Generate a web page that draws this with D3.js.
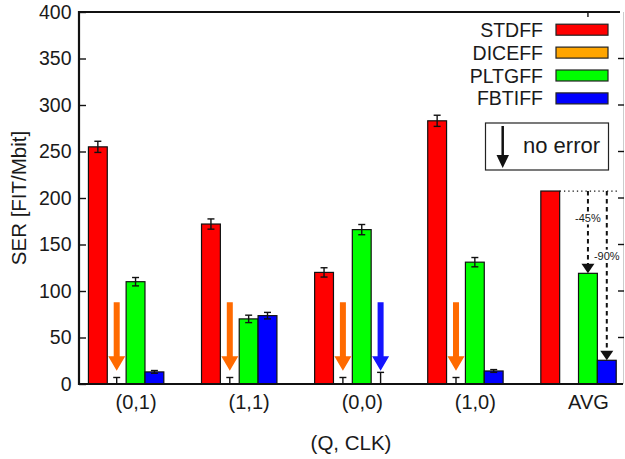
<!DOCTYPE html>
<html>
<head>
<meta charset="utf-8">
<script src="https://cdn.jsdelivr.net/npm/d3@7/dist/d3.min.js"></script>
<style>
  html, body { margin: 0; padding: 0; background: #fff; }
  svg { display: block; }
  text { font-family: "Liberation Sans", Arial, sans-serif; fill: #1a1a1a; }
</style>
</head>
<body>
<svg id="chart" width="625" height="459"></svg>
<script>
// ---- data ----
const categories = ["(0,1)", "(1,1)", "(0,0)", "(1,0)", "AVG"];
const seriesNames = ["STDFF", "DICEFF", "PLTGFF", "FBTIFF"];
const seriesColors = ["#ff0000", "#ffa500", "#00ff00", "#0000ff"];
const stdff    = [255, 172, 120, 283, 207.5];
const stdffErr = [6, 5.5, 5, 6, null];
const diceff    = [0, 0, 0, 0, 0];
const diceffErr = [7, 7, 7, 7, null];
const pltgff    = [110, 70, 166, 131, 119];
const pltgffErr = [4.5, 4, 5.5, 5, null];
const fbtiff    = [13, 73.5, 0, 14, 25.5];
const fbtiffErr = [1.5, 3.5, 12.5, 1.5, null];
// "no error observed" markers (arrow) per series / category
const diceffNoErr = [true, true, true, true, false];
const fbtiffNoErr = [false, false, true, false, false];
const yTicks = [0, 50, 100, 150, 200, 250, 300, 350, 400];
const reductionLabels = ["-45%", "-90%"];

const values = [stdff, diceff, pltgff, fbtiff];
const errors = [stdffErr, diceffErr, pltgffErr, fbtiffErr];
const noErr  = [null, diceffNoErr, null, fbtiffNoErr];

// ---- layout ----
const svg = d3.select("#chart");
const mLeft = 79, mRight = 623, mTop = 12, mBottom = 384;
const x = d3.scaleLinear().domain([-0.5, 4.31]).range([mLeft, mRight]);
const y = d3.scaleLinear().domain([0, 400]).range([mBottom, mTop]);
const nGap = 6;               // 4 bars + gap of 2
const bw = x(1 / nGap) - x(0);
const barCenter = (i, j) => x(i + (j - 2) / nGap);

const g = svg.append("g");

// bars
values.forEach((vals, j) => {
  g.selectAll(null).data(vals.map((v, i) => ({ v, i })).filter(d => d.v > 0))
    .enter().append("rect")
    .attr("x", d => barCenter(d.i, j) - bw / 2)
    .attr("y", d => y(d.v))
    .attr("width", bw)
    .attr("height", d => y(0) - y(d.v))
    .attr("fill", seriesColors[j])
    .attr("stroke", "#111")
    .attr("stroke-width", 1.2);
});

// error bars
values.forEach((vals, j) => {
  vals.forEach((v, i) => {
    const e = errors[j][i];
    if (e == null) return;
    const cx = barCenter(i, j);
    const lo = Math.max(0, v - e), hi = v + e;
    const eg = g.append("g").attr("stroke", "#111").attr("stroke-width", 1.4);
    eg.append("line").attr("x1", cx).attr("x2", cx).attr("y1", y(lo)).attr("y2", y(hi));
    eg.append("line").attr("x1", cx - 3.5).attr("x2", cx + 3.5).attr("y1", y(hi)).attr("y2", y(hi));
    if (v - e > 0)
      eg.append("line").attr("x1", cx - 3.5).attr("x2", cx + 3.5).attr("y1", y(lo)).attr("y2", y(lo));
  });
});

// no-error arrows
const arrowColors = [null, "#ff6a00", null, "#1414ff"];
function fatArrow(cx, y0, y1, color) {
  const headH = 14.5;
  const p = d3.path();
  p.moveTo(cx - 3, y0); p.lineTo(cx + 3, y0); p.lineTo(cx + 3, y1 - headH);
  p.lineTo(cx + 8.5, y1 - headH); p.lineTo(cx, y1); p.lineTo(cx - 8.5, y1 - headH);
  p.lineTo(cx - 3, y1 - headH); p.closePath();
  g.append("path").attr("d", p.toString()).attr("fill", color);
}
noErr.forEach((flags, j) => {
  if (!flags) return;
  flags.forEach((f, i) => {
    if (f) fatArrow(barCenter(i, j), y(88), y(14.3), arrowColors[j]);
  });
});

// reduction annotation on AVG
const avgI = 4;
const refY = y(stdff[avgI]);
g.append("line")
  .attr("x1", barCenter(avgI, 0) + bw / 2).attr("x2", x(4.28))
  .attr("y1", refY).attr("y2", refY)
  .attr("stroke", "#111").attr("stroke-width", 1.3).attr("stroke-dasharray", "1.3,3");
[[2, pltgff[avgI], reductionLabels[0], 178], [3, fbtiff[avgI], reductionLabels[1], 138]].forEach(([j, v, lbl, ly]) => {
  const cx = barCenter(avgI, j);
  g.append("line").attr("x1", cx).attr("x2", cx).attr("y1", refY).attr("y2", y(v) - 9)
    .attr("stroke", "#111").attr("stroke-width", 2).attr("stroke-dasharray", "4.5,3.5");
  g.append("path")
    .attr("d", `M${cx - 6.5},${y(v) - 9.5}L${cx + 6.5},${y(v) - 9.5}L${cx},${y(v)}Z`)
    .attr("fill", "#111");
  const t = g.append("text").attr("x", cx).attr("y", y(ly)).attr("text-anchor", "middle")
    .attr("dominant-baseline", "central").attr("font-size", 11).text(lbl);
  const bb = t.node().getBBox();
  g.insert("rect", () => t.node())
    .attr("x", bb.x - 1).attr("y", bb.y).attr("width", bb.width + 2).attr("height", bb.height)
    .attr("fill", "#fff");
});

// axes / frame
const ax = svg.append("g").attr("stroke", "#111");
ax.append("line").attr("x1", mLeft).attr("x2", mLeft).attr("y1", mTop - 1).attr("y2", mBottom + 1).attr("stroke-width", 2.2);
ax.append("line").attr("x1", mLeft - 1).attr("x2", mRight).attr("y1", mBottom).attr("y2", mBottom).attr("stroke-width", 2.2);
ax.append("line").attr("x1", mLeft).attr("x2", mRight - 3).attr("y1", mTop).attr("y2", mTop).attr("stroke-width", 1.8);
ax.append("line").attr("x1", mRight + 0.5).attr("x2", mRight + 0.5).attr("y1", mTop).attr("y2", mBottom)
  .attr("stroke", "#ccc").attr("stroke-width", 1);

const yAxis = d3.axisLeft(y).tickValues(yTicks).tickSize(-7).tickPadding(7.5);
const yg = svg.append("g").attr("transform", `translate(${mLeft},0)`).call(yAxis);
yg.select(".domain").remove();
yg.selectAll(".tick line").attr("stroke", "#111").attr("stroke-width", 1.4);
yg.selectAll(".tick text").attr("font-size", 19.5).attr("font-family", "Liberation Sans, Arial, sans-serif").attr("fill", "#1a1a1a");

// right mirror ticks
svg.append("g").selectAll("line").data(yTicks.filter(t => t > 0 && t < 400)).enter().append("line")
  .attr("x1", mRight - 5).attr("x2", mRight + 1).attr("y1", d => y(d)).attr("y2", d => y(d))
  .attr("stroke", "#111").attr("stroke-width", 1.4);
// top mirror tick (AVG)
svg.append("line").attr("x1", x(4)).attr("x2", x(4)).attr("y1", mTop).attr("y2", mTop + 5)
  .attr("stroke", "#111").attr("stroke-width", 1.4);

// x labels
const xAxis = d3.axisBottom(x).tickValues(d3.range(categories.length)).tickFormat(i => categories[i]).tickSize(0).tickPadding(11);
const xg = svg.append("g").attr("transform", `translate(0,${mBottom})`).call(xAxis);
xg.select(".domain").remove();
xg.selectAll(".tick text").attr("font-size", 20).attr("font-family", "Liberation Sans, Arial, sans-serif").attr("fill", "#1a1a1a");

// axis titles
svg.append("text").attr("transform", "translate(26,198) rotate(-90)").attr("text-anchor", "middle")
  .attr("font-size", 20.5).text("SER [FIT/Mbit]");
svg.append("text").attr("x", 351).attr("y", 449.5).attr("text-anchor", "middle")
  .attr("font-size", 20.5).text("(Q, CLK)");

// legend
const leg = svg.append("g");
seriesNames.forEach((name, k) => {
  const cy = 29.7 + k * 22.9;
  leg.append("text").attr("x", 543).attr("y", cy).attr("text-anchor", "end")
    .attr("dominant-baseline", "central").attr("font-size", 19.5).text(name);
  leg.append("rect").attr("x", 556).attr("y", cy - 5.5).attr("width", 52).attr("height", 11)
    .attr("fill", seriesColors[k]).attr("stroke", "#222").attr("stroke-width", 1.2);
});
leg.append("rect").attr("x", 485.5).attr("y", 123).attr("width", 123).attr("height", 47)
  .attr("fill", "#fff").attr("stroke", "#222").attr("stroke-width", 1.2);
leg.append("line").attr("x1", 502.7).attr("x2", 502.7).attr("y1", 126).attr("y2", 158)
  .attr("stroke", "#111").attr("stroke-width", 2.5);
leg.append("path").attr("d", "M496.5,155L509,155L502.7,168Z").attr("fill", "#111");
leg.append("text").attr("x", 523).attr("y", 145.5).attr("dominant-baseline", "central")
  .attr("font-size", 22).text("no error");
</script>
</body>
</html>
